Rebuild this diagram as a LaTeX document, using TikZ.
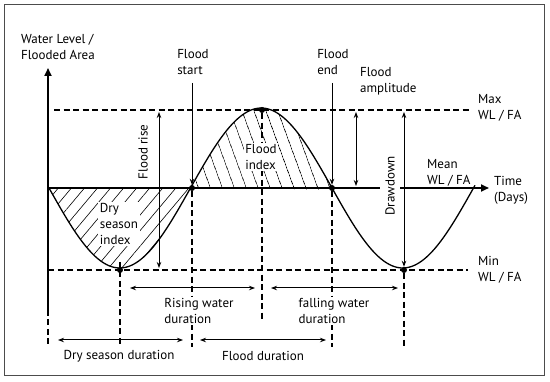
\documentclass[tikz,border=0pt]{standalone}
\usepackage{fontspec}
\setmainfont{PT Sans}
\usetikzlibrary{arrows.meta,patterns.meta}

\begin{document}
\begin{tikzpicture}[x=1pt,y=-1pt,font=\fontsize{13}{16}\selectfont,
  axis/.style={line width=1.9pt},
  guide/.style={line width=1.6pt,dash pattern=on 6pt off 3.5pt},
  dim/.style={line width=1pt,{Stealth[length=6pt,width=4.5pt]}-{Stealth[length=6pt,width=4.5pt]}},
  pointer/.style={line width=1pt,-{Stealth[length=6pt,width=4.5pt]}},
  dotpt/.style={circle,fill,inner sep=0pt,minimum size=6pt},
  cover/.style={fill=white,inner sep=1.5pt,align=left},
  txt/.style={inner sep=0pt,align=left}]
\useasboundingbox (0,0) rectangle (550,382);
\draw[black!70,line width=0.8pt] (4,4) rectangle (544,375);
% ---- hatched indices ----
\path[pattern={Lines[angle=50,distance=10pt,line width=0.6pt]}]
  plot[domain=49:191,samples=60] (\x,{188+80*sin((\x-49)*1.27208)}) -- cycle;
\path[pattern={Lines[angle=110,distance=10.5pt,line width=0.6pt]}]
  plot[domain=191:333,samples=60] (\x,{188+80*sin((\x-49)*1.27208)}) -- cycle;
% ---- water level curve ----
\draw[line width=1.3pt] plot[domain=49:475,samples=150] (\x,{188+80*sin((\x-49)*1.27208)});
% ---- axes ----
\coordinate (ytop) at (48,68);
\coordinate (ybot) at (48,310);
\coordinate (ylow) at (48,347);
\coordinate (xbeg) at (48,188);
\coordinate (xend) at (489,188);
\draw[axis,-{Triangle[length=8pt,width=7pt]}] (ybot) -- (ytop);
\draw[axis,-{Triangle[length=8pt,width=7pt]}] (xbeg) -- (xend);
\draw[guide] (ybot) -- (ylow);
% ---- max / min levels ----
\coordinate (maxL) at (54,110);
\coordinate (maxR) at (470,110);
\coordinate (minL) at (48,270);
\coordinate (minR) at (468,270);
\draw[guide] (maxL) -- (maxR);
\draw[guide] (minL) -- (minR);
% ---- turning points ----
\node[dotpt] (lo1) at (120,270) {};
\node[dotpt] (up1) at (192,188) {};
\node[dotpt] (hi)  at (262,110) {};
\node[dotpt] (dn1) at (332,188) {};
\node[dotpt] (lo2) at (404,270) {};
\draw[guide] (lo1) ++(0,-8) -- ++(0,85);
\draw[guide] (up1) -- ++(0,159);
\draw[guide] (hi) -- ++(0,210);
\draw[guide] (dn1) -- ++(0,159);
\draw[guide] (lo2) -- ++(0,77);
% ---- dimension arrows ----
\coordinate (frT) at (159,112);
\coordinate (frB) at (159,268);
\coordinate (faT) at (356,112);
\coordinate (faB) at (356,186);
\coordinate (ddT) at (404,112);
\coordinate (rwL) at (130,288);
\coordinate (rwR) at (255,288);
\coordinate (fwL) at (271,288);
\coordinate (fwR) at (398,288);
\coordinate (dsL) at (58,340);
\coordinate (dsR) at (183,340);
\coordinate (fdL) at (200,340);
\coordinate (fdR) at (326,340);
\draw[dim] (frT) -- (frB);
\draw[dim] (faT) -- (faB);
\draw[dim] (ddT) -- (lo2);
\draw[dim] (rwL) -- (rwR);
\draw[dim] (fwL) -- (fwR);
\draw[dim] (dsL) -- (dsR);
\draw[dim] (fdL) -- (fdR);
% ---- labels ----
\node[cover] (dsi) at (119,224) {Dry\\season\\index};
\node[cover] (fli) at (261,157) {Flood\\index};
\node[cover,rotate=90] (frise) at (143,152) {Flood rise};
\node[cover,rotate=90,inner ysep=5pt] (ddown) at (390,186) {Drawdown};
\node[cover] (rwd) at (199,311) {Rising water\\duration};
\node[cover] (fwd) at (334,311) {falling water\\duration};
\node[txt] (dsd) at (119,356) {Dry season duration};
\node[txt] (fld) at (263,356) {Flood duration};
\node[txt,anchor=north west] (yax) at (21,34) {Water Level /\\Flooded Area};
\node[txt] (fstart) at (193,62) {Flood\\start};
\node[txt] (fend) at (333,62) {Flood\\end};
\node[txt,anchor=west] (famp) at (360,81) {Flood\\amplitude};
\node[txt,anchor=west] (maxlbl) at (478,108) {Max\\WL / FA};
\node[txt,anchor=west] (meanlbl) at (427,173) {Mean\\WL / FA};
\node[txt,anchor=west] (timelbl) at (494,190) {Time\\(Days)};
\node[txt,anchor=west] (minlbl) at (478,270) {Min\\WL / FA};
\draw[pointer] ([yshift=-8pt]fstart.south -| up1) -- (up1);
\draw[pointer] ([yshift=-8pt]fend.south -| dn1) -- (dn1);
\end{tikzpicture}
\end{document}
